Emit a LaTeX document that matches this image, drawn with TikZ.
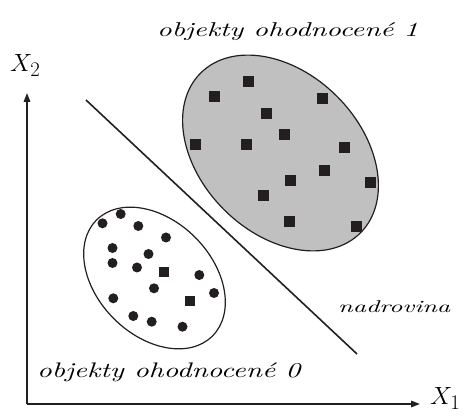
\documentclass[tikz,border=0pt]{standalone}
\usetikzlibrary{arrows.meta}
\definecolor{blobgray}{RGB}{192,192,192}
\definecolor{ink}{RGB}{35,31,32}
\begin{document}
\begin{tikzpicture}[x=1pt,y=1pt,
  axis/.style={line width=1.6pt, draw=ink, -{Triangle[length=9pt,width=6.5pt]}},
  plane/.style={line width=1.6pt, draw=ink},
  cluster/.style={line width=1.2pt, draw=ink},
  sq/.style={fill=ink, minimum size=11pt, inner sep=0pt, draw=none, rectangle},
  dot/.style={fill=ink, circle, minimum size=10pt, inner sep=0pt, draw=none},
  lbl/.style={inner sep=0pt, anchor=north west}]
\useasboundingbox (0,0) rectangle (467,-417);

% clusters
\draw[cluster, fill=blobgray, rotate around={-45:(280.5,-153)}] (280.5,-153) ellipse [x radius=113, y radius=80];
\draw[cluster, fill=white, rotate around={-45:(154.5,-278)}] (154.5,-278) ellipse [x radius=82, y radius=57.5];

% axes
\coordinate (O) at (27,-404);
\coordinate (ytip) at (27,-93);
\coordinate (xtip) at (420,-404);
\draw[axis] (O) -- (ytip);
\draw[axis] (O) -- (xtip);

% hyperplane
\coordinate (h1) at (86,-100);
\coordinate (h2) at (357,-354);
\draw[plane] (h1) -- (h2);

% class 1 squares
\node[sq] (s1) at (248.3,-81.7) {};
\node[sq] (s2) at (214.3,-96.7) {};
\node[sq] (s3) at (322.7,-98.3) {};
\node[sq] (s4) at (266,-113.3) {};
\node[sq] (s5) at (284,-134.3) {};
\node[sq] (s6) at (195.3,-145) {};
\node[sq] (s7) at (246.7,-145) {};
\node[sq] (s8) at (344.3,-147.3) {};
\node[sq] (s9) at (324,-170.7) {};
\node[sq] (s10) at (290.7,-181) {};
\node[sq] (s11) at (370,-182.7) {};
\node[sq] (s12) at (263.7,-196) {};
\node[sq] (s13) at (289.3,-221.3) {};
\node[sq] (s14) at (356.7,-226.7) {};

% class 0 dots
\node[dot] (d1) at (120.7,-214) {};
\node[dot] (d2) at (102.5,-223.3) {};
\node[dot] (d3) at (138.3,-226) {};
\node[dot] (d4) at (166,-237.5) {};
\node[dot] (d5) at (112.5,-248) {};
\node[dot] (d6) at (148.5,-254) {};
\node[dot] (d7) at (112.5,-263) {};
\node[dot] (d8) at (137,-267.5) {};
\node[sq, minimum size=10pt] (d9) at (164,-272.5) {};
\node[dot] (d10) at (199.3,-275) {};
\node[dot] (d11) at (154,-288.3) {};
\node[dot] (d12) at (214,-293) {};
\node[dot] (d13) at (113.3,-298.3) {};
\node[sq, minimum size=10pt] (d14) at (189.5,-301.5) {};
\node[dot] (d15) at (133.3,-316) {};
\node[dot] (d16) at (151.7,-321.7) {};
\node[dot] (d17) at (182.5,-326.7) {};

% labels
\node[lbl] (t1) at (157,-22) {\resizebox*{261pt}{18pt}{\itshape objekty ohodnocené 1}};
\node[lbl] (t0) at (37,-363) {\resizebox*{263pt}{19pt}{\itshape objekty ohodnocené 0}};
\node[lbl] (tn) at (338,-300) {\resizebox*{112pt}{12pt}{\itshape nadrovina}};
\node[inner sep=0pt, anchor=base west] (x2) at (10,-72) {\fontsize{32}{32}\selectfont$X_{2}$};
\node[inner sep=0pt, anchor=base west] (x1) at (430,-405) {\fontsize{30}{30}\selectfont$X_{1}$};
\end{tikzpicture}
\end{document}
